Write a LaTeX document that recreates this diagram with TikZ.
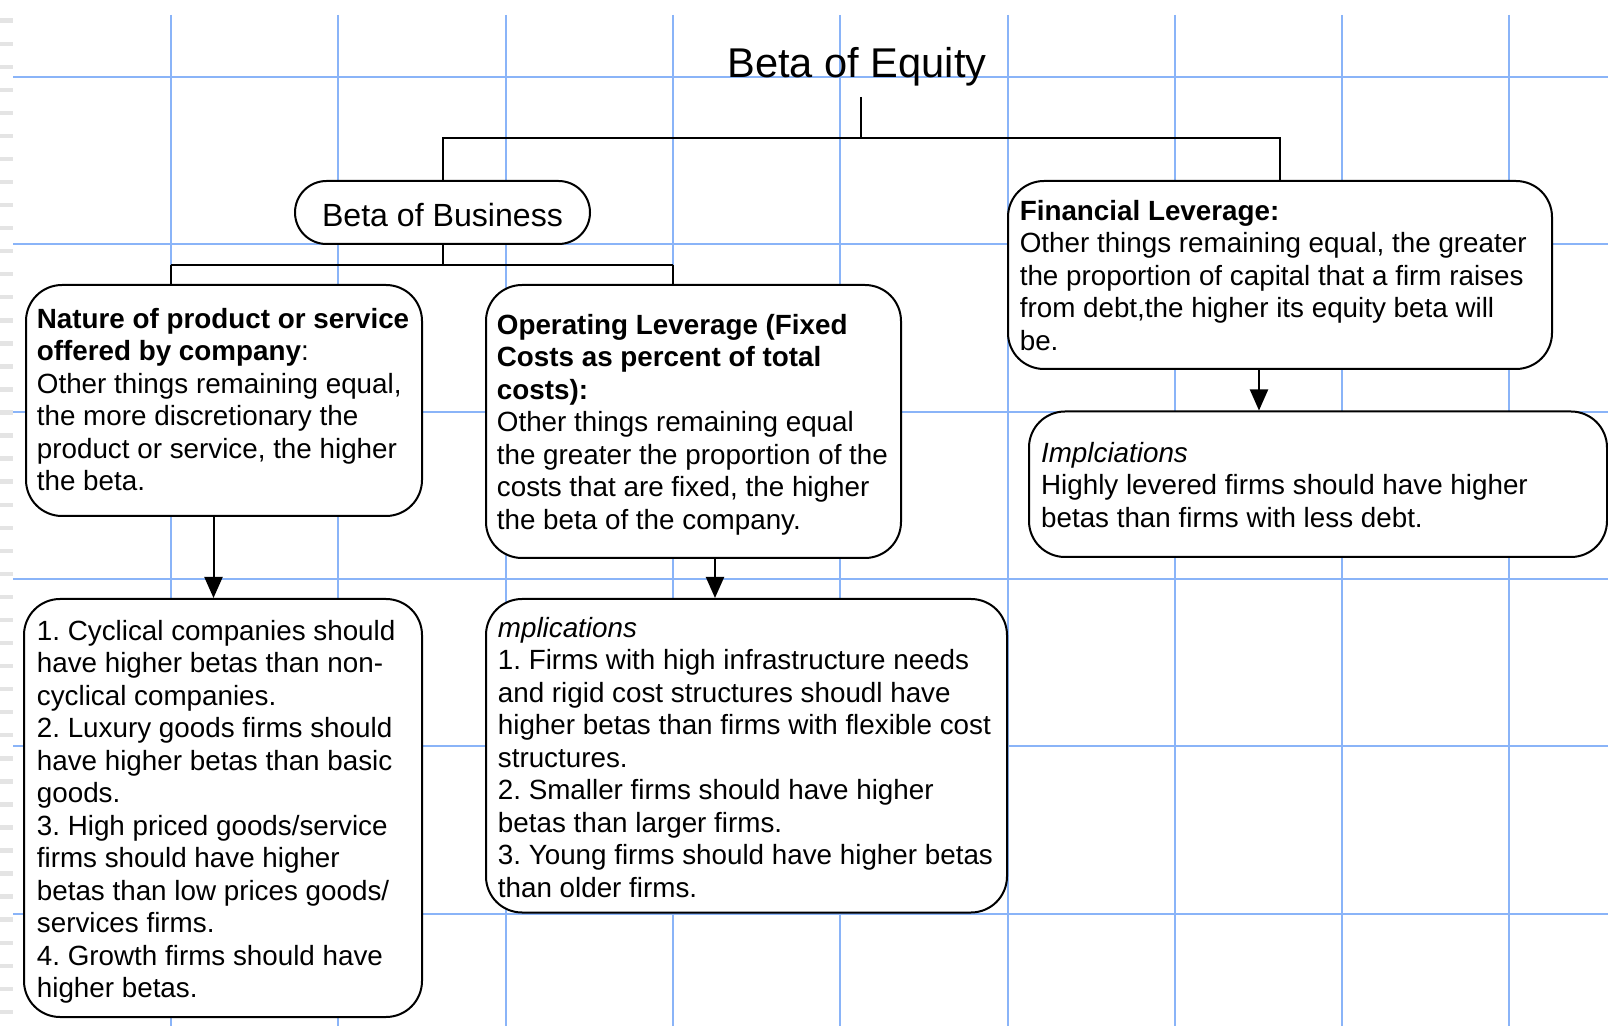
\documentclass[tikz,border=0pt]{standalone}
\usepackage{fontspec}
\setmainfont{Liberation Sans}
\usetikzlibrary{arrows.meta}
\definecolor{gridblue}{RGB}{138,180,248}
\definecolor{tickgray}{RGB}{228,228,228}
\newcommand\firstln{\rule{0pt}{11pt}}
\frenchspacing
\begin{document}
\begin{tikzpicture}[x=0.5pt,y=-0.5pt,
  box/.style={draw=black, line width=1pt, fill=white, rounded corners=18pt, inner sep=0pt},
  txt/.style={anchor=north west, inner sep=0pt, align=left, font=\fontsize{13.9pt}{16.25pt}\selectfont},
  conn/.style={draw=black, line width=1pt},
  arr/.style={conn, -{Triangle[length=10.5pt,width=9pt]}},
  gridline/.style={draw=gridblue, line width=1pt},
]
\useasboundingbox (0,0) rectangle (1608,1026);
\fill[white] (0,0) rectangle (1608,1026);
% ruler ticks on the left edge
\foreach \k in {0,...,43} {
  \fill[tickgray] (0,{20.7+23.05*\k-2.2}) rectangle (13,{20.7+23.05*\k+2.2});
}
% grid
\foreach \k in {0,...,8} {
  \draw[gridline] ({171+167.3*\k},15) -- ({171+167.3*\k},1026);
}
\foreach \k in {0,...,5} {
  \draw[gridline] (13,{77+167.3*\k}) -- (1608,{77+167.3*\k});
}
% title
\node[anchor=base west, inner sep=0pt, font=\fontsize{20.8pt}{24pt}\selectfont] (title) at (727,78) {Beta of Equity};
% boxes
\node[box, minimum width=147.5pt, minimum height=31.5pt, rounded corners=15.75pt,
      text height=14.2pt, text depth=0pt, font=\fontsize{16.05pt}{19pt}\selectfont] (busi) at (442.5,212.5) {Beta of Business};
\node[box, minimum width=198pt, minimum height=115.5pt] (nature) at (224,400.5) {};
\node[box, minimum width=207.5pt, minimum height=136.5pt] (oper) at (693.5,421.5) {};
\node[box, minimum width=272pt, minimum height=94pt] (fin) at (1280,275) {};
\node[box, minimum width=289pt, minimum height=72.75pt] (rimp) at (1318,484.25) {};
\node[box, minimum width=199pt, minimum height=209pt] (cyc) at (223,808) {};
\node[box, minimum width=260.5pt, minimum height=156.75pt] (imp) at (746.5,755.75) {};
% texts
\node[txt] (naturetxt) at (36.5,306) {\firstln\textbf{Nature of product or service}\\
  \textbf{offered by company}:\\
  Other things remaining equal,\\
  the more discretionary the\\
  product or service, the higher\\
  the beta.};
\node[txt] (opertxt) at (496.5,312) {\firstln\textbf{Operating Leverage (Fixed}\\
  \textbf{Costs as percent of total}\\
  \textbf{costs):}\\
  Other things remaining equal\\
  the greater the proportion of the\\
  costs that are fixed, the higher\\
  the beta of the company.};
\node[txt] (fintxt) at (1019.4,198) {\firstln\textbf{Financial Leverage:}\\
  Other things remaining equal, the greater\\
  the proportion of capital that a firm raises\\
  from debt,the higher its equity beta will\\
  be.};
\node[txt] (rimptxt) at (1040.7,439.7) {\firstln\textit{Implciations}\\
  Highly levered firms should have higher\\
  betas than firms with less debt.};
\node[txt] (cyctxt) at (36.5,618) {\firstln 1. Cyclical companies should\\
  have higher betas than non-\\
  cyclical companies.\\
  2. Luxury goods firms should\\
  have higher betas than basic\\
  goods.\\
  3. High priced goods/service\\
  firms should have higher\\
  betas than low prices goods/\\
  services firms.\\
  4. Growth firms should have\\
  higher betas.};
\node[txt] (imptxt) at (497.5,615) {\firstln\textit{mplications}\\
  1. Firms with high infrastructure needs\\
  and rigid cost structures shoudl have\\
  higher betas than firms with flexible cost\\
  structures.\\
  2. Smaller firms should have higher\\
  betas than larger firms.\\
  3. Young firms should have higher betas\\
  than older firms.};
% connector coordinates
\coordinate (t1) at (861,97);
\coordinate (tj) at (861,138);
\coordinate (bj) at (442.5,265);
\coordinate (xa) at (171,0);
\coordinate (xb) at (673,0);
\coordinate (xn) at (213.5,0);
\coordinate (xo) at (715,0);
\coordinate (xf) at (1259,0);
% tree connectors
\draw[conn] (t1) -- (tj);
\draw[conn] (tj) -| (busi.north);
\draw[conn] (tj) -| (fin.north);
\draw[conn] (busi.south) -- (bj);
\draw[conn] (xa |- bj) -- (xb |- bj);
\draw[conn] (xa |- bj) -- (xa |- nature.north);
\draw[conn] (xb |- bj) -- (xb |- oper.north);
% arrows
\draw[arr] (xn |- nature.south) -- (xn |- cyc.north);
\draw[arr] (xo |- oper.south) -- (xo |- imp.north);
\draw[arr] (xf |- fin.south) -- (xf |- rimp.north);
\end{tikzpicture}
\end{document}
